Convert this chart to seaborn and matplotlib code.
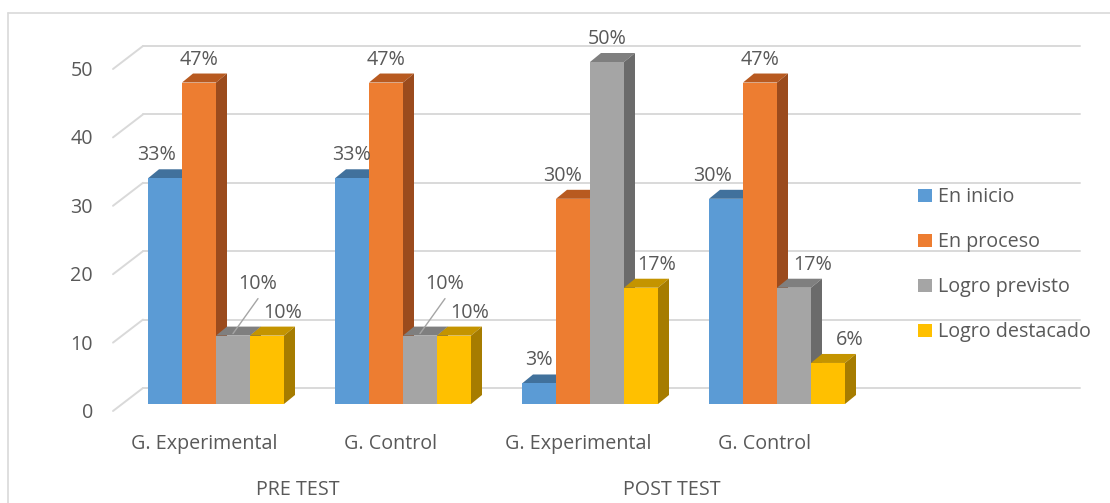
import matplotlib
matplotlib.use("Agg")
import matplotlib.pyplot as plt
from matplotlib.patches import Polygon, Rectangle
from matplotlib.lines import Line2D
import pandas as pd
import seaborn as sns

# ---- data -------------------------------------------------------------
phases = ["PRE TEST", "PRE TEST", "POST TEST", "POST TEST"]
groups = ["G. Experimental", "G. Control", "G. Experimental", "G. Control"]
levels = ["En inicio", "En proceso", "Logro previsto", "Logro destacado"]
en_inicio = [33, 33, 3, 30]
en_proceso = [47, 47, 30, 47]
logro_previsto = [10, 10, 50, 17]
logro_destacado = [10, 10, 17, 6]
y_ticks = [0, 10, 20, 30, 40, 50]

# ---- styling ----------------------------------------------------------
front_colors = ["#5B9BD5", "#ED7D31", "#A5A5A5", "#FFC000"]
top_colors = ["#41719C", "#B85A20", "#7F7F7F", "#C49400"]
side_colors = ["#3C6A94", "#9B4B1D", "#6B6B6B", "#A67C00"]
text_color = "#595959"
grid_color = "#D9D9D9"

sns.set_theme(style="white")
plt.rcParams["font.family"] = ["Open Sans", "DejaVu Sans"]
FS = 14.2
HALF_CAP = 7.0  # half the cap height in pixels, for centring text on a point

W, H = 1110, 503
fig = plt.figure(figsize=(W / 100, H / 100), dpi=100)
fig.patch.set_facecolor("white")

# pixel geometry of the drawing (group spacing, value scale, 3D depth)
X0, SX = 216.0, 187.0      # centre of first group, pixels per group
Y0, SY = 404.0, 6.84       # baseline of bar fronts, pixels per unit
DX, DY = 11.0 / SX, 9.0 / SY

ax = fig.add_axes([0, 0, 1, 1])

df = pd.DataFrame({
    "grupo": [f"{p} {g}" for p, g in zip(phases, groups)] * 4,
    "nivel": sum([[lv] * 4 for lv in levels], []),
    "valor": en_inicio + en_proceso + logro_previsto + logro_destacado,
})
order = [f"{p} {g}" for p, g in zip(phases, groups)]

sns.barplot(data=df, x="grupo", y="valor", hue="nivel", order=order,
            hue_order=levels, palette=front_colors, saturation=1,
            width=136.0 / SX, linewidth=0, errorbar=None, legend=False, ax=ax)

ax.set_xlim((0 - X0) / SX, (W - X0) / SX)
ax.set_ylim((Y0 - H) / SY, Y0 / SY)
ax.axis("off")


def px_x(px):
    return (px - X0) / SX


def px_y(py):
    return (Y0 - py) / SY


# back wall + floor-side gridlines
back_l, back_r = px_x(143), px_x(1080)
front_l = px_x(113)
for v in y_ticks:
    yb = v + 16.0 / SY
    yf = v - 7.0 / SY
    ax.add_line(Line2D([back_l, back_r], [yb, yb], color=grid_color, lw=1.4, zorder=1))
    ax.add_line(Line2D([front_l, back_l], [yf, yb], color=grid_color, lw=1.4, zorder=1))
    ax.text(px_x(93), yf - HALF_CAP / SY, f"{v}", ha="right", va="baseline",
            fontsize=FS, color=text_color)

# label nudges in pixels (dx, dy) for crowded positions
nudges = {
    (0, 0): (-8, 0), (0, 3): (16, 0), (1, 3): (16, 0),
    (2, 1): (-10, 0), (2, 3): (16, 0),
    (3, 0): (-13, 0), (3, 2): (19, 0), (3, 3): (22, 0),
}
leader = {(0, 2), (1, 2)}

# extrude each bar with top and side faces, drawn left to right
for hi, cont in enumerate(ax.containers):
    for gi, bar in enumerate(cont):
        x, w, h = bar.get_x(), bar.get_width(), bar.get_height()
        z = 10 + gi * 10 + hi * 2
        bar.set_zorder(z + 1)
        ax.add_patch(Polygon([(x, h), (x + w, h), (x + w + DX, h + DY), (x + DX, h + DY)],
                             closed=True, facecolor=top_colors[hi], lw=0, zorder=z))
        ax.add_patch(Polygon([(x + w, 0), (x + w + DX, DY), (x + w + DX, h + DY), (x + w, h)],
                             closed=True, facecolor=side_colors[hi], lw=0, zorder=z))
        cx = x + w / 2
        if (gi, hi) in leader:
            ax.add_line(Line2D([cx, cx + 25 / SX], [h + 2 / SY, h + 37 / SY],
                               color="#A5A5A5", lw=1.0, zorder=60))
            lx, ly = cx + 25 / SX, h + 54 / SY
        else:
            ndx, ndy = nudges.get((gi, hi), (0, 0))
            lx, ly = cx + ndx / SX, h + (25 + ndy) / SY
        ax.text(lx, ly - HALF_CAP / SY, f"{h:.0f}%", ha="center", va="baseline",
                fontsize=FS, color=text_color, zorder=70)

# category and phase labels
for i, g in enumerate(groups):
    ax.text(i - 12 / SX, px_y(442) - HALF_CAP / SY, g, ha="center", va="baseline",
            fontsize=FS, color=text_color)
for a in (0, 2):
    ax.text(a + 0.5 - 12 / SX, px_y(488) - HALF_CAP / SY, phases[a], ha="center",
            va="baseline", fontsize=FS, color=text_color)

# legend
for k, lv in enumerate(levels):
    cy = 195 + 45 * k
    fig.add_artist(Rectangle((918 / W, 1 - (cy + 6.5) / H), 13.5 / W, 13 / H,
                             transform=fig.transFigure, facecolor=front_colors[k], lw=0))
    fig.text(938 / W, 1 - (cy + HALF_CAP) / H, lv, ha="left", va="baseline",
             fontsize=FS, color=text_color)

# chart frame
fig.add_artist(Line2D([8 / W, 1], [1 - 13 / H, 1 - 13 / H], transform=fig.transFigure,
                      color=grid_color, lw=1.2))
fig.add_artist(Line2D([8 / W, 8 / W], [1 - 13 / H, 0], transform=fig.transFigure,
                      color=grid_color, lw=1.2))

fig.savefig("out.png", dpi=100, facecolor="white")
